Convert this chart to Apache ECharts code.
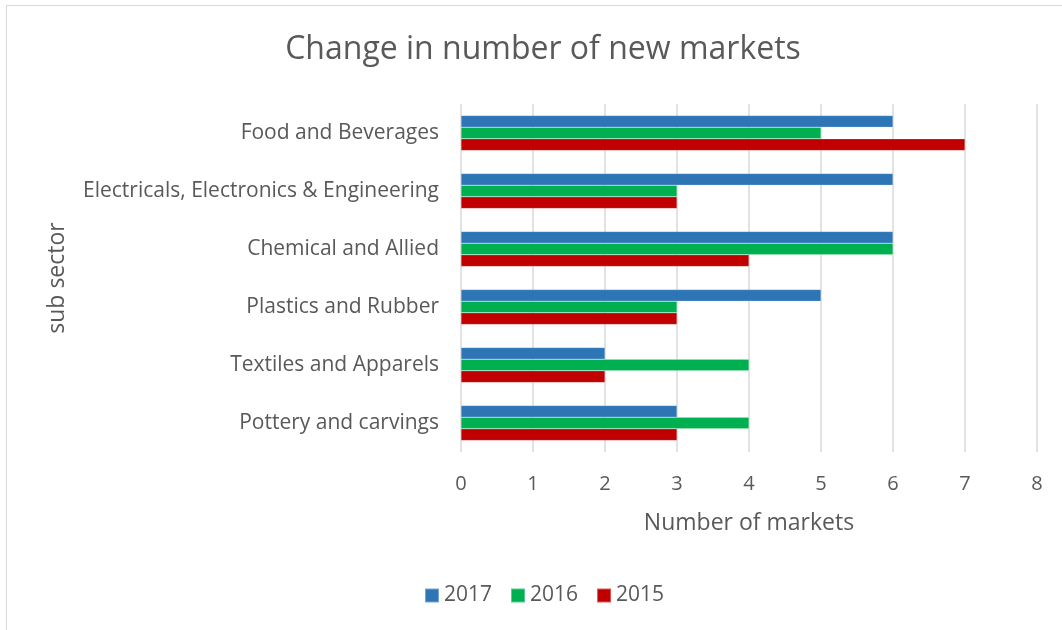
<!DOCTYPE html>
<html>
<head>
<meta charset="utf-8">
<script src="https://cdn.jsdelivr.net/npm/echarts@6/dist/echarts.min.js"></script>
<style>
  html, body { margin: 0; padding: 0; background: #fff; }
  #frame { position: absolute; left: 6px; top: 5px; width: 1062px; height: 630px;
           border-left: 1.5px solid #d9d9d9; border-top: 1.5px solid #d9d9d9; box-sizing: border-box; }
  #chart { position: absolute; left: 0; top: 0; width: 1062px; height: 630px; }
</style>
</head>
<body>
<div id="frame"></div>
<div id="chart"></div>
<script>
// Sub-sectors, listed top to bottom
const categories = [
  'Food and Beverages',
  'Electricals, Electronics & Engineering',
  'Chemical and Allied',
  'Plastics and Rubber',
  'Textiles and Apparels',
  'Pottery and carvings'
];
const years = ['2017', '2016', '2015'];
const values2017 = [6, 6, 6, 5, 2, 3];
const values2016 = [5, 3, 6, 3, 4, 4];
const values2015 = [7, 3, 4, 3, 2, 3];
const xTicks = [0, 1, 2, 3, 4, 5, 6, 7, 8];

const colors = ['#2e75b6', '#00b050', '#c00000'];
const seriesValues = [values2017, values2016, values2015];
const textColor = '#595959';
const fontFamily = '"Open Sans", sans-serif';

const chart = echarts.init(document.getElementById('chart'), null, { renderer: 'canvas' });

chart.setOption({
  animation: false,
  textStyle: { fontFamily: fontFamily, color: textColor },
  title: {
    text: 'Change in number of new markets',
    left: 538,
    top: 29,
    textAlign: 'center',
    textStyle: { fontFamily: fontFamily, fontSize: 32, fontWeight: 'normal', color: textColor }
  },
  legend: {
    data: years,
    left: 419,
    top: 580,
    itemWidth: 14,
    itemHeight: 14,
    itemGap: 18,
    icon: 'rect',
    textStyle: { fontFamily: fontFamily, fontSize: 21, color: textColor }
  },
  grid: { left: 461, right: 25, top: 104, bottom: 178, containLabel: false },
  xAxis: {
    type: 'value',
    min: xTicks[0],
    max: xTicks[xTicks.length - 1],
    interval: 1,
    name: 'Number of markets',
    nameLocation: 'middle',
    nameGap: 60,
    nameTextStyle: { fontFamily: fontFamily, fontSize: 23, color: textColor },
    axisLine: { show: false },
    axisTick: { show: false },
    axisLabel: { margin: 22, fontFamily: fontFamily, fontSize: 20, color: textColor },
    splitLine: { show: true, lineStyle: { color: '#d9d9d9', width: 1.5 } }
  },
  yAxis: {
    type: 'category',
    data: categories,
    inverse: true,
    name: 'sub sector',
    nameLocation: 'middle',
    nameGap: 392,
    nameRotate: 90,
    nameTextStyle: { fontFamily: fontFamily, fontSize: 23, color: textColor },
    axisLine: { show: false },
    axisTick: { show: false },
    axisLabel: { margin: 22, fontFamily: fontFamily, fontSize: 21, color: textColor }
  },
  series: years.map((y, i) => ({
    name: y,
    type: 'bar',
    data: seriesValues[i],
    barWidth: 11.7,
    barGap: '0%',
    itemStyle: { color: colors[i], borderColor: 'rgba(255,255,255,0.35)', borderWidth: 0.5 }
  }))
});
</script>
</body>
</html>
